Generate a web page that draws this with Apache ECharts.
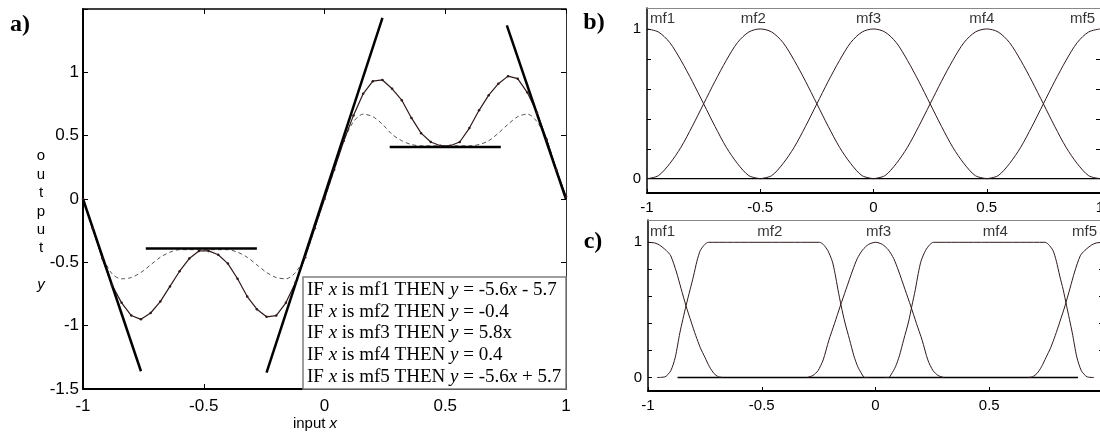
<!DOCTYPE html>
<html><head><meta charset="utf-8">
<script src="https://cdn.jsdelivr.net/npm/echarts@6/dist/echarts.min.js"></script>
<style>html,body{margin:0;padding:0;background:#fff}#c{width:1100px;height:438px}</style>
</head><body><div id="c"></div><script>
// ---------- data: panel a ----------
const xA = [-1,-0.96,-0.92,-0.88,-0.84,-0.8,-0.76,-0.72,-0.68,-0.64,-0.6,-0.56,-0.52,-0.48,-0.44,-0.4,-0.36,-0.32,-0.28,-0.24,-0.2,-0.16,-0.12,-0.08,-0.04,0,0.04,0.08,0.12,0.16,0.2,0.24,0.28,0.32,0.36,0.4,0.44,0.48,0.52,0.56,0.6,0.64,0.68,0.72,0.76,0.8,0.84,0.88,0.92,0.96,1];
const yFit = [0,-0.23,-0.47,-0.68,-0.82,-0.92,-0.95,-0.9,-0.81,-0.69,-0.57,-0.47,-0.41,-0.41,-0.44,-0.51,-0.63,-0.77,-0.87,-0.93,-0.92,-0.82,-0.66,-0.46,-0.23,0,0.23,0.46,0.66,0.83,0.93,0.94,0.87,0.78,0.64,0.52,0.45,0.42,0.42,0.45,0.56,0.7,0.82,0.91,0.97,0.95,0.84,0.68,0.47,0.23,0.02];
const yDash = [0,-0.23,-0.45,-0.59,-0.63,-0.62,-0.58,-0.52,-0.46,-0.42,-0.4,-0.4,-0.4,-0.4,-0.4,-0.4,-0.42,-0.46,-0.52,-0.58,-0.62,-0.63,-0.58,-0.45,-0.23,0,0.23,0.46,0.61,0.67,0.65,0.59,0.51,0.46,0.43,0.42,0.42,0.42,0.42,0.42,0.42,0.43,0.46,0.52,0.59,0.65,0.67,0.61,0.47,0.23,0.02];
const rule1 = [[-1,0],[-0.76,-1.36]];
const rule2 = [[-0.74,-0.39],[-0.28,-0.39]];
const rule3 = [[-0.24,-1.37],[0.24,1.43]];
const rule4 = [[0.27,0.41],[0.73,0.41]];
const rule5 = [[0.755,1.37],[1,0]];
const ruleTexts = [
  'IF {i|x} is mf1 THEN {i|y} = -5.6{i|x} - 5.7',
  'IF {i|x} is mf2 THEN {i|y} = -0.4',
  'IF {i|x} is mf3 THEN {i|y} = 5.8x',
  'IF {i|x} is mf4 THEN {i|y} = 0.4',
  'IF {i|x} is mf5 THEN {i|y} = -5.6{i|x} + 5.7'
];
const yTicksA = [-1.5,-1,-0.5,0,0.5,1];

// ---------- data: panel b ----------
const mfNames = ['mf1','mf2','mf3','mf4','mf5'];
const mfCenters = [-1,-0.5,0,0.5,1];
const mfB1 = [[-1,1],[-0.95,0.98],[-0.9,0.91],[-0.85,0.79],[-0.8,0.65],[-0.75,0.5],[-0.7,0.35],[-0.65,0.21],[-0.6,0.1],[-0.55,0.02],[-0.5,0]];
const mfB2 = [[-1,0],[-0.95,0.02],[-0.9,0.1],[-0.85,0.21],[-0.8,0.35],[-0.75,0.5],[-0.7,0.65],[-0.65,0.79],[-0.6,0.91],[-0.55,0.98],[-0.5,1],[-0.45,0.98],[-0.4,0.91],[-0.35,0.79],[-0.3,0.65],[-0.25,0.5],[-0.2,0.35],[-0.15,0.21],[-0.1,0.1],[-0.05,0.02],[0,0]];
const mfB3 = [[-0.5,0],[-0.45,0.02],[-0.4,0.1],[-0.35,0.21],[-0.3,0.35],[-0.25,0.5],[-0.2,0.65],[-0.15,0.79],[-0.1,0.91],[-0.05,0.98],[0,1],[0.05,0.98],[0.1,0.91],[0.15,0.79],[0.2,0.65],[0.25,0.5],[0.3,0.35],[0.35,0.21],[0.4,0.1],[0.45,0.02],[0.5,0]];
const mfB4 = [[0,0],[0.05,0.02],[0.1,0.1],[0.15,0.21],[0.2,0.35],[0.25,0.5],[0.3,0.65],[0.35,0.79],[0.4,0.91],[0.45,0.98],[0.5,1],[0.55,0.98],[0.6,0.91],[0.65,0.79],[0.7,0.65],[0.75,0.5],[0.8,0.35],[0.85,0.21],[0.9,0.1],[0.95,0.02],[1,0]];
const mfB5 = [[0.5,0],[0.55,0.02],[0.6,0.1],[0.65,0.21],[0.7,0.35],[0.75,0.5],[0.8,0.65],[0.85,0.79],[0.9,0.91],[0.95,0.98],[1,1]];
const zeroB = [[-1,0],[1,0]];

// ---------- data: panel c ----------
const mfC1 = [[-1,1],[-0.97,0.995],[-0.95,0.98],[-0.92,0.94],[-0.9,0.9],[-0.875,0.78],[-0.855,0.66],[-0.833,0.53],[-0.81,0.41],[-0.79,0.31],[-0.77,0.22],[-0.75,0.15],[-0.73,0.08],[-0.71,0.03],[-0.69,0.005],[-0.67,0]];
const mfC2 = [[-0.96,0],[-0.925,0.005],[-0.9,0.05],[-0.88,0.15],[-0.86,0.33],[-0.833,0.53],[-0.815,0.65],[-0.8,0.75],[-0.785,0.86],[-0.77,0.94],[-0.75,0.985],[-0.735,1],[-0.246,1],[-0.23,0.985],[-0.21,0.94],[-0.19,0.86],[-0.178,0.77],[-0.165,0.65],[-0.151,0.53],[-0.135,0.41],[-0.114,0.28],[-0.095,0.16],[-0.078,0.08],[-0.06,0.025],[-0.048,0],[-0.03,0]];
const mfC3 = [[-0.3,0],[-0.275,0.015],[-0.253,0.05],[-0.23,0.13],[-0.205,0.276],[-0.18,0.4],[-0.155,0.528],[-0.13,0.65],[-0.1,0.795],[-0.08,0.88],[-0.057,0.943],[-0.03,0.985],[0,1],[0.03,0.985],[0.057,0.943],[0.08,0.88],[0.1,0.795],[0.13,0.65],[0.155,0.528],[0.18,0.4],[0.205,0.276],[0.23,0.13],[0.253,0.05],[0.275,0.015],[0.3,0]];
const mfC4 = [[0.04,0],[0.058,0],[0.07,0.025],[0.088,0.08],[0.105,0.16],[0.124,0.28],[0.145,0.41],[0.16,0.53],[0.175,0.65],[0.188,0.77],[0.2,0.86],[0.22,0.94],[0.24,0.985],[0.255,1],[0.745,1],[0.76,0.985],[0.78,0.94],[0.795,0.86],[0.81,0.75],[0.825,0.65],[0.84,0.53],[0.865,0.33],[0.885,0.15],[0.905,0.05],[0.93,0.005],[0.96,0]];
const mfC5 = [[0.67,0],[0.69,0.005],[0.71,0.03],[0.73,0.08],[0.75,0.15],[0.77,0.22],[0.79,0.31],[0.81,0.41],[0.833,0.53],[0.855,0.66],[0.875,0.78],[0.9,0.9],[0.92,0.94],[0.95,0.98],[0.97,0.995],[1,1]];
const zeroC = [[-0.87,0],[0.89,0]];
const yTickInner = [0.2,0.4,0.6,0.8];
const yLabelMF = [0,1];

// ---------- styles ----------
const SANS = 'Liberation Sans';
const SERIF = 'Liberation Serif';
const CURVE = '#2e1a1a';

function xAxisDef(grid, pos, opts) {
  const base = {
    gridIndex: grid, type: 'value', min: -1, max: 1, interval: 0.5, position: pos,
    splitLine: {show: false},
    axisLine: {onZero: false, lineStyle: {color: '#000', width: 1.5}},
    axisTick: {inside: true, length: 5, lineStyle: {color: '#000'}},
    axisLabel: {show: false}
  };
  return Object.assign(base, opts || {});
}
function yAxisDef(grid, pos, opts) {
  const base = {
    gridIndex: grid, type: 'value', position: pos,
    splitLine: {show: false},
    axisLine: {onZero: false, lineStyle: {color: '#000', width: 1.5}},
    axisTick: {inside: true, length: 5, lineStyle: {color: '#000'}},
    axisLabel: {show: false}
  };
  return Object.assign(base, opts || {});
}

// axis index pairs: panel a -> 0, panel b -> 2, panel c -> 4
const lineS = (ai, data, extra) => Object.assign({
  type: 'line', xAxisIndex: ai, yAxisIndex: ai, data: data, showSymbol: false,
  lineStyle: {color: CURVE, width: 1}, silent: true
}, extra || {});

function mfLabelSeries(ai, offsets, aligns) {
  return {
    type: 'scatter', xAxisIndex: ai, yAxisIndex: ai, symbolSize: 1, silent: true,
    itemStyle: {color: 'rgba(0,0,0,0)'},
    data: mfNames.map((n, i) => ({
      name: n, value: [mfCenters[i], 1],
      label: {show: true, formatter: n, position: 'inside', align: aligns[i], verticalAlign: 'middle',
        offset: offsets[i], color: '#000', fontFamily: SANS, fontSize: 15}
    }))
  };
}

const chart = echarts.init(document.getElementById('c'), null, {renderer: 'canvas'});
const option = {
  animation: false,
  backgroundColor: '#fff',
  grid: [
    {left: 83, top: 9, width: 483, height: 380, outerBoundsMode: 'none', containLabel: false},
    {left: 647, top: 8, width: 453, height: 185, outerBoundsMode: 'none', containLabel: false},
    {left: 648, top: 220, width: 455, height: 171, outerBoundsMode: 'none', containLabel: false}
  ],
  xAxis: [
    xAxisDef(0, 'bottom', {axisLine: {onZero: false, lineStyle: {color: '#000', width: 2}},
      axisLabel: {show: true, color: '#000', fontFamily: SANS, fontSize: 17, margin: 9}}),
    xAxisDef(0, 'top'),
    xAxisDef(1, 'bottom', {axisLine: {onZero: false, lineStyle: {color: '#000', width: 2}},
      axisTick: {inside: true, length: 4, lineStyle: {color: '#000'}},
      axisLabel: {show: true, color: '#000', fontFamily: SANS, fontSize: 15, margin: 7}}),
    xAxisDef(1, 'top', {axisLine: {onZero: false, lineStyle: {color: '#888', width: 1}}, axisTick: {show: false}}),
    xAxisDef(2, 'bottom', {axisLine: {onZero: false, lineStyle: {color: '#000', width: 2}},
      axisTick: {inside: true, length: 4, lineStyle: {color: '#000'}},
      axisLabel: {show: true, showMaxLabel: false, color: '#000', fontFamily: SANS, fontSize: 15, margin: 7}}),
    xAxisDef(2, 'top', {axisLine: {onZero: false, lineStyle: {color: '#888', width: 1}}, axisTick: {show: false}})
  ],
  yAxis: [
    yAxisDef(0, 'left', {min: -1.5, max: 1.5, interval: 0.5,
      axisLine: {onZero: false, lineStyle: {color: '#000', width: 2}},
      axisLabel: {show: true, color: '#000', fontFamily: SANS, fontSize: 17, margin: 4,
        formatter: v => (yTicksA.indexOf(v) >= 0 ? String(v) : '')}}),
    yAxisDef(0, 'right', {min: -1.5, max: 1.5, interval: 0.5,
      axisLine: {onZero: false, lineStyle: {color: '#333', width: 1}}}),
    yAxisDef(1, 'left', {min: -0.0955, max: 1.14,
      axisTick: {inside: true, length: 4, customValues: [0].concat(yTickInner, [1]), lineStyle: {color: '#000'}},
      axisLabel: {show: true, customValues: yLabelMF, color: '#000', fontFamily: SANS, fontSize: 15, margin: 6}}),
    yAxisDef(1, 'right', {min: -0.0955, max: 1.14,
      axisLine: {onZero: false, lineStyle: {color: '#888', width: 1}},
      axisTick: {inside: true, length: 4, customValues: yTickInner, lineStyle: {color: '#000'}}}),
    yAxisDef(2, 'left', {min: -0.1, max: 1.165,
      axisTick: {inside: true, length: 4, customValues: [0].concat(yTickInner, [1]), lineStyle: {color: '#000'}},
      axisLabel: {show: true, customValues: yLabelMF, color: '#000', fontFamily: SANS, fontSize: 15, margin: 6}}),
    yAxisDef(2, 'right', {min: -0.1, max: 1.165,
      axisLine: {onZero: false, lineStyle: {color: '#888', width: 1}},
      axisTick: {inside: true, length: 4, customValues: yTickInner, lineStyle: {color: '#000'}}})
  ],
  series: [
    // panel a
    lineS(0, xA.map((x, i) => [x, yDash[i]]), {smooth: 0.3, lineStyle: {color: '#555', width: 1, type: [4, 3]}}),
    lineS(0, xA.map((x, i) => [x, yFit[i]]), {showSymbol: true, symbol: 'circle', symbolSize: 2.5,
      itemStyle: {color: CURVE}, lineStyle: {color: CURVE, width: 1.2}}),
    ...[rule1, rule2, rule3, rule4, rule5].map(r => lineS(0, r, {lineStyle: {color: '#000', width: 2.5}})),
    // panel b
    lineS(2, zeroB, {lineStyle: {color: '#000', width: 1.3}}),
    ...[mfB1, mfB2, mfB3, mfB4, mfB5].map(d => lineS(2, d, {smooth: 0.3})),
    mfLabelSeries(2, [[3, -10], [-7, -10], [-5, -10], [-5, -10], [-5, -10]], ['left', 'center', 'center', 'center', 'right']),
    // panel c
    lineS(4, zeroC, {lineStyle: {color: '#000', width: 1.3}}),
    ...[mfC1, mfC2, mfC3, mfC4, mfC5].map(d => lineS(4, d, {smooth: 0.25})),
    mfLabelSeries(4, [[2, -10], [8, -10], [3, -10], [6, -10], [-6, -10]], ['left', 'center', 'center', 'center', 'right'])
  ],
  graphic: [
    {type: 'rect', z: 100, shape: {x: 303, y: 277, width: 263, height: 112},
      style: {fill: '#fff', stroke: '#7f7f7f', lineWidth: 1.5}},
    {type: 'text', z: 101, x: 307, y: 279,
      style: {text: ruleTexts.join('\n'), fill: '#000', fontFamily: SERIF, fontSize: 19, lineHeight: 21.7,
        align: 'left', verticalAlign: 'top',
        rich: {i: {fontStyle: 'italic', fontFamily: SERIF, fontSize: 19, lineHeight: 21.7}}}},
    {type: 'text', z: 101, x: 315, y: 424,
      style: {text: 'input {i|x}', fill: '#000', fontFamily: SANS, fontSize: 15, align: 'center', verticalAlign: 'middle',
        rich: {i: {fontStyle: 'italic', fontFamily: SANS, fontSize: 15}}}},
    {type: 'text', z: 101, x: 41, y: 147,
      style: {text: 'o\nu\nt\np\nu\nt\n \n{i|y}', fill: '#000', fontFamily: SANS, fontSize: 15, lineHeight: 18.4,
        align: 'center', verticalAlign: 'top',
        rich: {i: {fontStyle: 'italic', fontFamily: SANS, fontSize: 15, lineHeight: 18.4}}}},
    {type: 'text', z: 101, x: 20, y: 25,
      style: {text: 'a)', fill: '#000', fontFamily: SERIF, fontWeight: 'bold', fontSize: 24, align: 'center', verticalAlign: 'middle'}},
    {type: 'text', z: 101, x: 594, y: 23,
      style: {text: 'b)', fill: '#000', fontFamily: SERIF, fontWeight: 'bold', fontSize: 24, align: 'center', verticalAlign: 'middle'}},
    {type: 'text', z: 101, x: 593, y: 242,
      style: {text: 'c)', fill: '#000', fontFamily: SERIF, fontWeight: 'bold', fontSize: 24, align: 'center', verticalAlign: 'middle'}}
  ]
};
chart.setOption(option);
</script></body></html>
